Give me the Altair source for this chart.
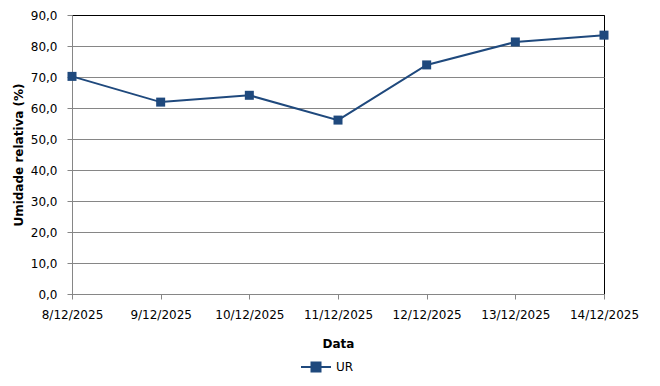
import altair as alt
import pandas as pd

dates = ["8/12/2025", "9/12/2025", "10/12/2025", "11/12/2025",
         "12/12/2025", "13/12/2025", "14/12/2025"]
ur = [70.2, 61.9, 64.1, 56.1, 73.9, 81.3, 83.5]
series = ["UR"] * len(dates)
y_ticks = [0, 10, 20, 30, 40, 50, 60, 70, 80, 90]

df = pd.DataFrame({"Data": dates, "UR": ur, "serie": series})

COLOR = "#1F497D"
GRID = "#868686"
FONT = "DejaVu Sans"

x = alt.X("Data:N", sort=dates,
          scale=alt.Scale(type="point", padding=0),
          axis=alt.Axis(title="Data", labelAngle=0, grid=False,
                        domainColor=GRID, tickColor=GRID, tickSize=5,
                        labelPadding=10, titlePadding=18,
                        labelFontSize=12, titleFontSize=12,
                        labelFont=FONT, titleFont=FONT, titleFontWeight="bold",
                        labelColor="black", titleColor="black"))
y = alt.Y("UR:Q",
          scale=alt.Scale(domain=[0, 90], nice=False, zero=True),
          axis=alt.Axis(title="Umidade relativa (%)", values=y_ticks,
                        labelExpr="replace(format(datum.value, '.1f'), '.', ',')",
                        grid=True,
                        gridColor={"condition": {"test": "datum.value == 90", "value": "black"},
                                   "value": GRID},
                        gridOpacity=1,
                        domainColor=GRID, tickColor=GRID, tickSize=5,
                        labelPadding=10, titlePadding=5,
                        labelFontSize=12, titleFontSize=12,
                        labelFont=FONT, titleFont=FONT, titleFontWeight="bold",
                        labelColor="black", titleColor="black"))
c = alt.Color("serie:N", scale=alt.Scale(range=[COLOR]),
              legend=alt.Legend(title=None, orient="none", legendX=228, legendY=336,
                                symbolType="M-1,0H1M-0.3,-0.3H0.3V0.3H-0.3Z",
                                symbolSize=900, symbolStrokeWidth=2,
                                symbolFillColor=COLOR, symbolStrokeColor=COLOR,
                                symbolOpacity=1,
                                labelFontSize=12, labelFont=FONT, labelColor="black",
                                labelOffset=4))

line = alt.Chart(df).mark_line(strokeWidth=2).encode(x=x, y=y, color=c)
pts = alt.Chart(df).mark_point(shape="square", filled=True, size=81, opacity=1).encode(
    x=x, y=y, color=c)

chart = alt.layer(line, pts).properties(
    width=532, height=279,
    autosize=alt.AutoSizeParams(type="none"),
    padding={"left": 64, "top": 7, "right": 48, "bottom": 84},
    background="white",
).configure_view(stroke="black", strokeWidth=1)

chart.save("out.html", embed_options={"renderer": "svg", "actions": False})
